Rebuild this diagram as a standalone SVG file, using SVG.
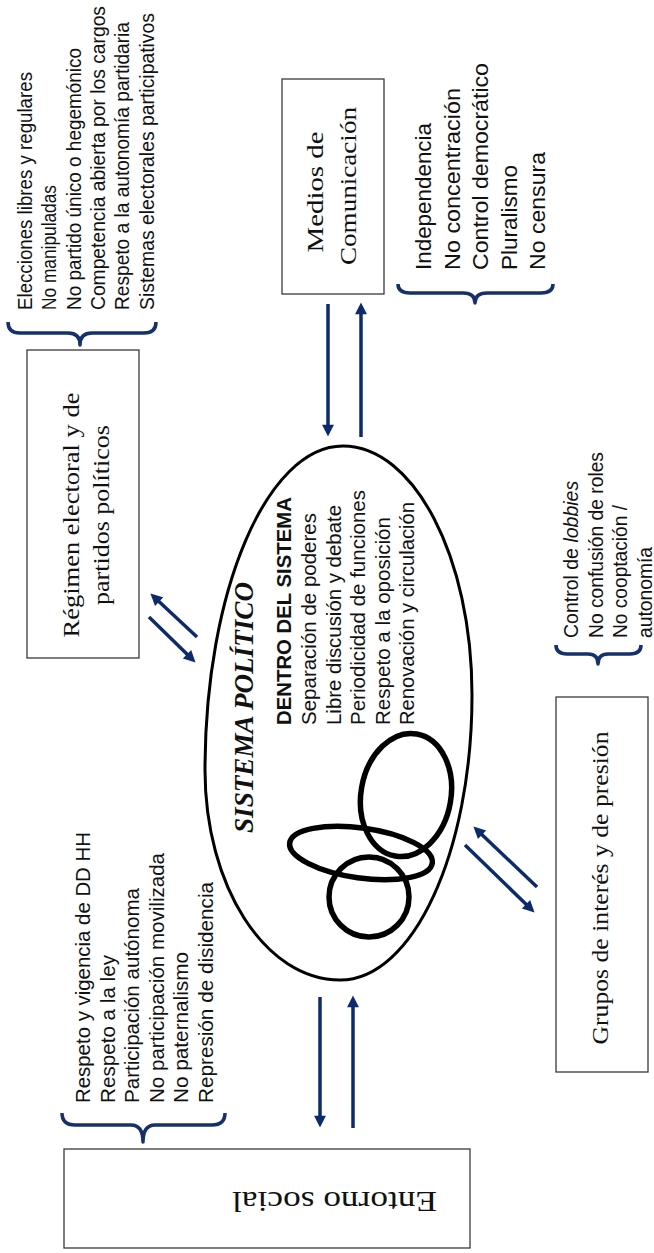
<svg xmlns="http://www.w3.org/2000/svg" width="654" height="1253" viewBox="0 0 654 1253">
<defs>
<marker id="ah" viewBox="0 0 10 10" refX="7" refY="5" markerWidth="4" markerHeight="3.4" orient="auto" markerUnits="strokeWidth">
<path d="M0,0 L10,5 L0,10 z" fill="#0d2a6b"/>
</marker>
<style>
.box{fill:#fff;stroke:#3a3a3a;stroke-width:1.3}
.lbl{font-family:"Liberation Serif","Times New Roman",serif;font-size:22.5px;fill:#111}
.lst{font-family:"Liberation Sans",Arial,sans-serif;fill:#111}
.arr{stroke:#0d2a6b;stroke-width:3.5;fill:none;marker-end:url(#ah)}
.brace{stroke:#15306b;stroke-width:3.5;fill:none;stroke-linejoin:round}
.loop{fill:none;stroke:#000;stroke-width:5.5}
</style>
</defs>
<rect width="654" height="1253" fill="#fff"/>

<g id="sistema">
<path d="M343,446 C414,446 472,557 472,695 C472,852 413,980 340,980 C265,980 205,886 205,770 C205,591 267,446 343,446 Z" fill="none" stroke="#000" stroke-width="3"/>
<ellipse class="loop" cx="406" cy="795" rx="45" ry="62" transform="rotate(10 406 795)"/>
<ellipse class="loop" cx="361" cy="853" rx="72" ry="25" transform="rotate(8 361 853)"/>
<circle class="loop" cx="369" cy="897" r="40"/>
<text transform="translate(253,833) rotate(-90)" font-family="'Liberation Serif','Times New Roman',serif" font-weight="bold" font-style="italic" font-size="27" textLength="251" lengthAdjust="spacingAndGlyphs" fill="#111">SISTEMA POLÍTICO</text>
<g class="lst" font-size="20.5" transform="translate(291,725) rotate(-90)">
<text x="0" y="0" font-weight="bold" textLength="228" lengthAdjust="spacingAndGlyphs">DENTRO DEL SISTEMA</text>
<text x="0" y="25" textLength="212" lengthAdjust="spacingAndGlyphs">Separación de poderes</text>
<text x="0" y="50" textLength="220" lengthAdjust="spacingAndGlyphs">Libre discusión y debate</text>
<text x="0" y="74" textLength="235" lengthAdjust="spacingAndGlyphs">Periodicidad de funciones</text>
<text x="0" y="99" textLength="208" lengthAdjust="spacingAndGlyphs">Respeto a la oposición</text>
<text x="0" y="123" textLength="223" lengthAdjust="spacingAndGlyphs">Renovación y circulación</text>
</g>
</g>

<g id="medios">
<rect class="box" x="282" y="79" width="102" height="215"/>
<text class="lbl" text-anchor="middle" transform="translate(323,192) rotate(-90)" textLength="121" lengthAdjust="spacingAndGlyphs">Medios de</text>
<text class="lbl" text-anchor="middle" transform="translate(356,186) rotate(-90)" textLength="158" lengthAdjust="spacingAndGlyphs">Comunicación</text>
</g>

<g id="medios-list">
<path class="brace" d="M398,284 Q398,293 410,293 L463,293 Q475,293 475,303 Q475,293 487,293 L541,293 Q553,293 553,284"/>
<g class="lst" font-size="22" transform="translate(431,270) rotate(-90)">
<text x="0" y="0" textLength="147" lengthAdjust="spacingAndGlyphs">Independencia</text>
<text x="0" y="28.5" textLength="182" lengthAdjust="spacingAndGlyphs">No concentración</text>
<text x="0" y="57" textLength="207" lengthAdjust="spacingAndGlyphs">Control democrático</text>
<text x="0" y="85.5" textLength="105" lengthAdjust="spacingAndGlyphs">Pluralismo</text>
<text x="0" y="114" textLength="118" lengthAdjust="spacingAndGlyphs">No censura</text>
</g>
</g>

<g id="regimen">
<rect class="box" x="27" y="350" width="112" height="308"/>
<text class="lbl" text-anchor="middle" transform="translate(79,515) rotate(-90)" textLength="245" lengthAdjust="spacingAndGlyphs">Régimen electoral y de</text>
<text class="lbl" text-anchor="middle" transform="translate(109,515) rotate(-90)" textLength="180" lengthAdjust="spacingAndGlyphs">partidos políticos</text>
</g>

<g id="regimen-list">
<path class="brace" d="M8,322 Q8,333 20,333 L68,333 Q80,333 80,345 Q80,333 92,333 L144,333 Q156,333 156,322"/>
<g class="lst" font-size="19.5" transform="translate(32,310) rotate(-90)">
<text x="0" y="0" textLength="238" lengthAdjust="spacingAndGlyphs">Elecciones libres y regulares</text>
<text x="0" y="24.3" textLength="125" lengthAdjust="spacingAndGlyphs">No manipuladas</text>
<text x="0" y="48.6" textLength="262" lengthAdjust="spacingAndGlyphs">No partido único o hegemónico</text>
<text x="0" y="72.9" textLength="304" lengthAdjust="spacingAndGlyphs">Competencia abierta por los cargos</text>
<text x="0" y="97.2" textLength="288" lengthAdjust="spacingAndGlyphs">Respeto a la autonomía partidaria</text>
<text x="0" y="121.5" textLength="297" lengthAdjust="spacingAndGlyphs">Sistemas electorales participativos</text>
</g>
</g>

<g id="grupos">
<rect class="box" x="556" y="697" width="92" height="375"/>
<text class="lbl" text-anchor="middle" transform="translate(608,888) rotate(-90)" textLength="313" lengthAdjust="spacingAndGlyphs">Grupos de interés y de presión</text>
</g>

<g id="grupos-list">
<path class="brace" d="M556,645 Q556,654 567,654 L588,654 Q598,654 598,664 Q598,654 608,654 L630,654 Q641,654 641,645"/>
<g class="lst" font-size="19.5" transform="translate(578,638) rotate(-90)">
<text x="0" y="0">Control de <tspan font-style="italic">lobbies</tspan></text>
<text x="0" y="24.5" textLength="186" lengthAdjust="spacingAndGlyphs">No confusión de roles</text>
<text x="0" y="49" textLength="133" lengthAdjust="spacingAndGlyphs">No cooptación /</text>
<text x="0" y="73.5" textLength="91" lengthAdjust="spacingAndGlyphs">autonomía</text>
</g>
</g>

<g id="entorno">
<rect class="box" x="64" y="1149" width="406" height="99"/>
<text class="lbl" text-anchor="middle" transform="translate(334.5,1192) rotate(180)" textLength="205" lengthAdjust="spacingAndGlyphs" style="font-size:30px">Entorno social</text>
</g>

<g id="entorno-list">
<path class="brace" d="M62,1113 Q62,1125 75,1125 L131,1125 Q143,1125 143,1142 Q143,1125 155,1125 L212,1125 Q225,1125 225,1113"/>
<g class="lst" font-size="20" transform="translate(90,1103) rotate(-90)">
<text x="0" y="0" textLength="271" lengthAdjust="spacingAndGlyphs">Respeto y vigencia de DD HH</text>
<text x="0" y="24.6" textLength="148" lengthAdjust="spacingAndGlyphs">Respeto a la ley</text>
<text x="0" y="49.2" textLength="215" lengthAdjust="spacingAndGlyphs">Participación autónoma</text>
<text x="0" y="73.8" textLength="250" lengthAdjust="spacingAndGlyphs">No participación movilizada</text>
<text x="0" y="98.4" textLength="151" lengthAdjust="spacingAndGlyphs">No paternalismo</text>
<text x="0" y="123" textLength="221" lengthAdjust="spacingAndGlyphs">Represión de disidencia</text>
</g>
</g>

<g id="connectors">
<line class="arr" x1="328" y1="304" x2="328" y2="433"/>
<line class="arr" x1="361" y1="437" x2="361" y2="306"/>
<line class="arr" x1="197" y1="637" x2="153" y2="596"/>
<line class="arr" x1="149" y1="617" x2="193" y2="660"/>
<line class="arr" x1="537" y1="887" x2="476" y2="829"/>
<line class="arr" x1="465" y1="845" x2="532" y2="910"/>
<line class="arr" x1="320" y1="997" x2="320" y2="1124"/>
<line class="arr" x1="353" y1="1128" x2="353" y2="999"/>
</g>
</svg>
